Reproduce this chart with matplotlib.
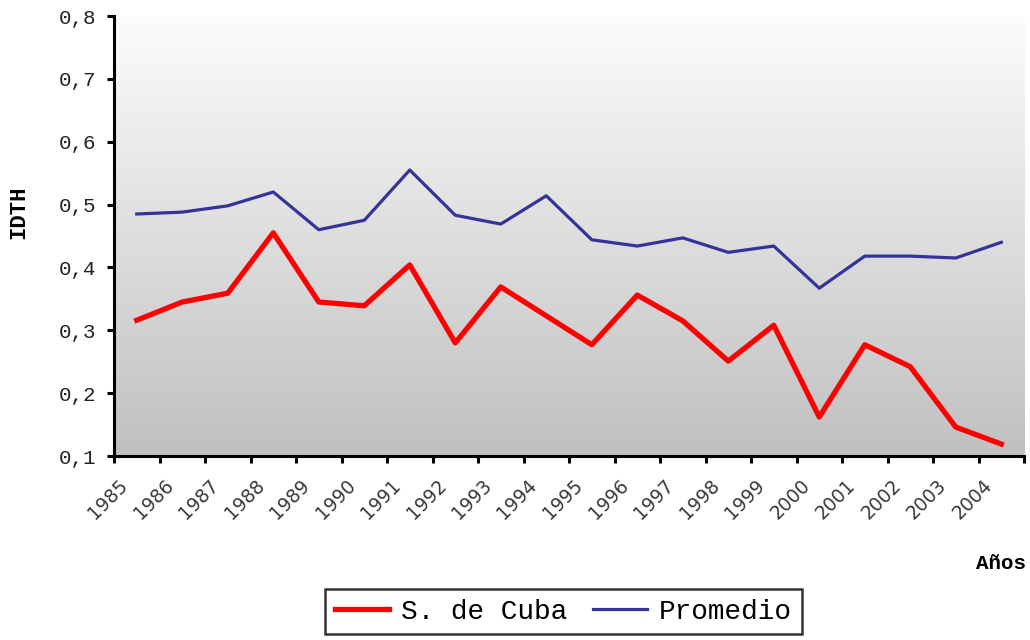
import numpy as np
import matplotlib
matplotlib.use("Agg")
import matplotlib.pyplot as plt
import matplotlib.transforms as mtransforms
from matplotlib.colors import LinearSegmentedColormap

years = [str(y) for y in range(1985, 2005)]
santiago = [0.316, 0.345, 0.359, 0.455, 0.345, 0.339, 0.404, 0.280, 0.369, 0.323,
            0.277, 0.356, 0.315, 0.251, 0.308, 0.162, 0.277, 0.242, 0.146, 0.119]
promedio = [0.485, 0.488, 0.498, 0.520, 0.460, 0.475, 0.555, 0.483, 0.469, 0.514,
            0.444, 0.434, 0.447, 0.424, 0.434, 0.367, 0.418, 0.418, 0.415, 0.440]

mono = "Liberation Mono"

fig = plt.figure(figsize=(10.3, 6.4), dpi=100)
ax = fig.add_axes([0.1107, 0.2875, 0.8835, 0.6875])

n = len(years)
ax.set_xlim(0, n)
ax.set_ylim(0.1, 0.8)

# gradient background, white at the top to grey at the bottom
grad = np.linspace(0, 1, 256).reshape(-1, 1)
cmap = LinearSegmentedColormap.from_list("bg", ["#c0c0c0", "#fcfcfc"])
ax.imshow(grad, extent=[0, n, 0.1, 0.8], origin="lower", aspect="auto",
          cmap=cmap, zorder=0)

x = np.arange(n) + 0.5
ax.plot(x, santiago, color="#ff0000", lw=3.8, label="S. de Cuba", zorder=3)
ax.plot(x, promedio, color="#333399", lw=2.3, label="Promedio", zorder=3)

for s in ["top", "right"]:
    ax.spines[s].set_visible(False)
for s in ["left", "bottom"]:
    ax.spines[s].set_linewidth(2.2)
    ax.spines[s].set_color("black")

yt = np.arange(0.1, 0.81, 0.1)
ax.set_yticks(yt)
ax.set_yticklabels([f"{v:.1f}".replace(".", ",") for v in yt],
                   fontfamily=mono, fontsize=15, color="#222222")
ax.tick_params(axis="y", direction="out", length=5, width=2.2, pad=8)

ax.set_xticks(np.arange(n + 1))
ax.set_xticklabels(years + [""], rotation=45, ha="right", rotation_mode="anchor",
                   fontfamily="DejaVu Sans", fontsize=13.5, color="#3a3a3a")
ax.tick_params(axis="x", direction="out", length=5, width=2.2, pad=9)
shift = mtransforms.ScaledTranslation(4 / 100, 0, fig.dpi_scale_trans)
for lab in ax.get_xticklabels():
    lab.set_transform(lab.get_transform() + shift)

fig.text(0.018, 0.669, "IDTH", rotation=90, fontfamily=mono, fontweight="bold",
         fontsize=16, ha="center", va="center")
fig.text(0.996, 0.12, "Años", fontfamily=mono, fontweight="bold",
         fontsize=15, ha="right", va="center")

leg = fig.legend(loc="center", bbox_to_anchor=(0.547, 0.0445), ncol=2,
                 prop={"family": mono, "size": 20}, frameon=True, fancybox=False,
                 edgecolor="black", handlelength=1.95, columnspacing=0.9,
                 borderpad=0.35, handletextpad=0.45)
leg.get_frame().set_linewidth(1.8)

fig.savefig("out.png", dpi=100)
